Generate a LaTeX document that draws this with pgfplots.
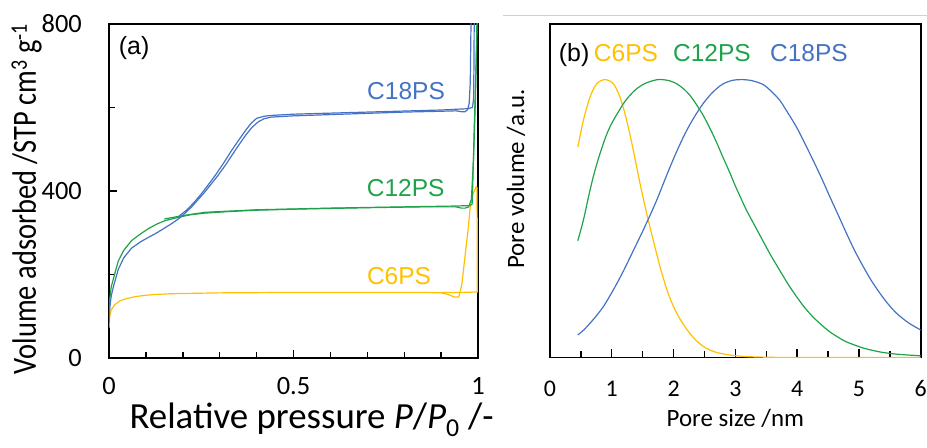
\documentclass[border=0pt]{standalone}
\usepackage{fontspec}
\setmainfont{Carlito}
\newfontfamily\arialfont{Liberation Sans}
\usepackage{pgfplots}
\pgfplotsset{compat=1.18}

\definecolor{cblue}{HTML}{4472C4}
\definecolor{cgreen}{HTML}{1FA34A}
\definecolor{cyellow}{HTML}{FFC000}

\newcommand{\fs}[1]{\fontsize{#1}{#1}\selectfont}

\pgfplotsset{
  panel/.style={
    scale only axis,
    axis line style={black, line width=1.7bp},
    every tick/.style={black, line width=1.4bp},
    tick align=inside,
    major tick length=8bp,
    minor tick length=6bp,
    /pgf/number format/assume math mode=true,
    clip=true,
    every axis plot/.append style={line width=1.2bp, no markers},
  },
}

\begin{document}
\begin{tikzpicture}[x=1bp,y=1bp]
\useasboundingbox (0,0) rectangle (927,448);
\draw[black!18, line width=0.8bp] (503,433) -- (927,433);

% (a) nitrogen isotherms
\begin{axis}[panel,
  at={(109bp,90bp)}, anchor=south west,
  width=369bp, height=334bp,
  xmin=0, xmax=1, ymin=0, ymax=800,
  xtick={0,0.5,1}, minor xtick={0.1,0.2,0.3,0.4,0.6,0.7,0.8,0.9},
  ytick={0,400,800}, minor ytick={200,600},
  xtick pos=bottom, ytick pos=left,
  xticklabel style={anchor=base, yshift=-37bp, font=\fs{26.5}},
  yticklabel style={anchor=east, inner sep=0pt, xshift=-27bp, font=\fs{26.5}},
  xticklabels={0,0.5,1},
  yticklabels={0,400,800},
  xlabel={Relative pressure \textit{P}/\textit{P}\textsubscript{0} /-},
  xlabel style={at={(axis description cs:0.549,0)}, anchor=base, yshift=-70.5bp, font=\fs{37}},
  ylabel={Volume adsorbed /STP cm\textsuperscript{3} g\textsuperscript{-1}},
  ylabel style={at={(axis description cs:-0.198,0.476)}, anchor=base, font=\fs{34}, xscale=0.84},
]
% C6PS adsorption / desorption
\addplot[cyellow] coordinates {
(0,72) (0.002,100) (0.006,115) (0.016,128) (0.03,137) (0.043,141) (0.06,145)
(0.079,148) (0.12,152) (0.17,154) (0.3,156) (0.5,157) (0.7,157) (0.85,157)
(0.9,156) (0.92,152) (0.935,146) (0.948,146) (0.956,175) (0.965,245)
(0.974,314) (0.978,354) (0.985,390) (0.995,410) (0.997,410)};
\addplot[cyellow] coordinates {
(0.997,410) (0.998,300) (0.998,158) (0.95,157) (0.9,157)};
% C12PS adsorption / desorption
\addplot[cgreen] coordinates {
(0,85) (0.002,140) (0.006,170) (0.012,190) (0.025,232) (0.04,258) (0.061,281)
(0.085,297) (0.107,310) (0.13,321) (0.152,329) (0.188,337) (0.22,343)
(0.26,347) (0.33,351) (0.4,354) (0.53,357) (0.7,360) (0.85,362) (0.94,362)
(0.955,359) (0.965,359) (0.975,362) (0.982,380) (0.988,480) (0.993,620)
(0.997,800) (0.998,850)};
\addplot[cgreen] coordinates {
(0.999,850) (0.995,700) (0.99,560) (0.986,420) (0.984,368) (0.975,365)
(0.94,364) (0.8,362) (0.6,359) (0.4,355) (0.26,349) (0.2,341) (0.15,333)};
% C18PS adsorption / desorption
\addplot[cblue] coordinates {
(0,80) (0.002,120) (0.006,148) (0.012,171) (0.025,212) (0.04,240) (0.061,263)
(0.085,278) (0.107,289) (0.13,300) (0.152,312) (0.17,322) (0.188,333)
(0.205,346) (0.224,362) (0.242,380) (0.26,398) (0.278,418) (0.296,438)
(0.314,460) (0.332,484) (0.35,508) (0.369,532) (0.387,552) (0.405,566)
(0.42,573) (0.44,577) (0.5,580) (0.6,583) (0.7,586) (0.8,589) (0.9,591)
(0.94,592) (0.955,590) (0.965,590) (0.972,595) (0.976,610) (0.979,660)
(0.981,800) (0.9815,850)};
\addplot[cblue] coordinates {
(0.99,850) (0.989,700) (0.988,620) (0.985,600) (0.97,597) (0.9,594) (0.7,589)
(0.5,584) (0.44,581) (0.42,579) (0.40,574) (0.385,562) (0.37,545) (0.35,520)
(0.33,494) (0.31,466) (0.29,440) (0.27,416) (0.25,393) (0.23,372) (0.21,354)
(0.19,340)};
\node[anchor=base, font=\arialfont\fs{25}] at (axis cs:0.068,726) {(a)};
\node[anchor=base, font=\arialfont\fs{24.6}, text=cblue] at (axis cs:0.805,618) {C18PS};
\node[anchor=base, font=\arialfont\fs{24.6}, text=cgreen] at (axis cs:0.804,386) {C12PS};
\node[anchor=base, font=\arialfont\fs{24.6}, text=cyellow] at (axis cs:0.786,175) {C6PS};
\end{axis}

% (b) pore size distributions
\begin{axis}[panel,
  at={(550bp,90.5bp)}, anchor=south west,
  width=370.7bp, height=333.5bp,
  xmin=0, xmax=6, ymin=0, ymax=1.2,
  xtick={0,1,2,3,4,5,6}, minor xtick={0.5,1.5,2.5,3.5,4.5,5.5},
  ytick=\empty,
  xtick pos=bottom,
  xticklabel style={anchor=base, yshift=-39.5bp, font=\fs{24}},
  xlabel={Pore size /nm},
  xlabel style={at={(axis description cs:0.5,0)}, anchor=base, yshift=-69.5bp, font=\fs{25}},
  ylabel={Pore volume /a.u.},
  ylabel style={at={(axis description cs:-0.07,0.535)}, anchor=base, font=\fs{25}},
]
\addplot[cyellow, smooth] coordinates {
(0.45,0.757) (0.54,0.853) (0.647,0.937) (0.756,0.985) (0.89,1.0) (1.025,0.985)
(1.133,0.937) (1.241,0.853) (1.349,0.745) (1.457,0.626) (1.565,0.518)
(1.673,0.420) (1.78,0.327) (1.89,0.245) (1.97,0.198) (2.05,0.160) (2.15,0.122)
(2.266,0.086) (2.37,0.060) (2.48,0.040) (2.6,0.026) (2.7,0.018) (2.85,0.011)
(2.97,0.007) (3.2,0.003) (3.5,0.001) (4,0) (6,0)};
\addplot[cgreen, smooth] coordinates {
(0.45,0.42) (0.54,0.494) (0.62,0.575) (0.70,0.65) (0.78,0.713) (0.863,0.77)
(0.94,0.815) (1.025,0.853) (1.187,0.913) (1.30,0.945) (1.403,0.967)
(1.51,0.983) (1.619,0.993) (1.72,0.999) (1.81,1.0) (1.93,0.996) (2.05,0.985)
(2.16,0.967) (2.266,0.943) (2.37,0.910) (2.48,0.871) (2.59,0.824) (2.70,0.772)
(2.80,0.720) (2.91,0.665) (3.0,0.617) (3.09,0.573) (3.18,0.530) (3.31,0.476)
(3.45,0.418) (3.58,0.365) (3.72,0.313) (3.85,0.265) (3.99,0.219) (4.12,0.180)
(4.26,0.145) (4.40,0.116) (4.53,0.092) (4.67,0.072) (4.80,0.056) (5.07,0.034)
(5.34,0.020) (5.61,0.012) (6,0.006)};
\addplot[cblue, smooth] coordinates {
(0.45,0.081) (0.55,0.100) (0.647,0.123) (0.75,0.150) (0.863,0.183)
(0.97,0.222) (1.079,0.265) (1.19,0.312) (1.295,0.360) (1.40,0.408)
(1.51,0.459) (1.62,0.512) (1.727,0.566) (1.835,0.626) (1.942,0.685)
(2.05,0.741) (2.158,0.793) (2.266,0.839) (2.374,0.879) (2.48,0.914)
(2.59,0.944) (2.70,0.968) (2.805,0.985) (2.95,0.997) (3.1,1.0) (3.27,0.996)
(3.45,0.982) (3.58,0.958) (3.72,0.925) (3.85,0.880) (3.99,0.829) (4.12,0.772)
(4.26,0.709) (4.40,0.643) (4.53,0.578) (4.67,0.510) (4.80,0.446) (4.93,0.385)
(5.07,0.327) (5.20,0.277) (5.34,0.231) (5.47,0.193) (5.61,0.159) (5.80,0.125)
(6,0.099)};
\node[anchor=base, font=\arialfont\fs{25}] at (axis cs:0.39,1.064) {(b)};
\node[anchor=base, font=\arialfont\fs{24.6}, text=cyellow] at (axis cs:1.23,1.064) {C6PS};
\node[anchor=base, font=\arialfont\fs{24.6}, text=cgreen] at (axis cs:2.62,1.064) {C12PS};
\node[anchor=base, font=\arialfont\fs{24.6}, text=cblue] at (axis cs:4.19,1.064) {C18PS};
\end{axis}
\end{tikzpicture}
\end{document}
